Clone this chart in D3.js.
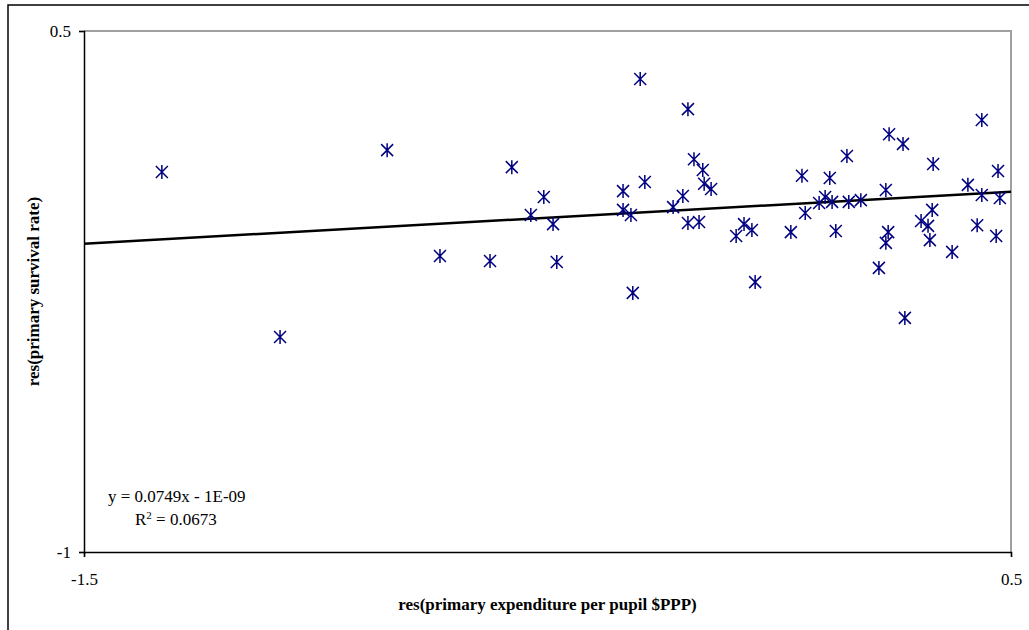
<!DOCTYPE html>
<html>
<head>
<meta charset="utf-8">
<script src="https://cdn.jsdelivr.net/npm/d3@7"></script>
<style>
  body { margin: 0; background: #fff; }
  svg text { font-family: "Liberation Serif", "Times New Roman", serif; }
</style>
</head>
<body>
<div id="chart"></div>
<script>
// residuals
const resExpenditure = [-1.332, -1.077, -0.846, -0.732, -0.624, -0.577, -0.536, -0.508, -0.488, -0.480,
  -0.337, -0.337, -0.320, -0.316, -0.300, -0.290, -0.229, -0.208, -0.197, -0.197,
  -0.184, -0.173, -0.165, -0.162, -0.147, -0.093, -0.076, -0.059, -0.052, 0.025,
  0.049, 0.056, 0.086, 0.099, 0.109, 0.114, 0.122, 0.146, 0.150, 0.176,
  0.215, 0.230, 0.230, 0.237, 0.235, 0.267, 0.271, 0.306, 0.321, 0.325,
  0.330, 0.332, 0.373, 0.407, 0.427, 0.437, 0.437, 0.468, 0.472, 0.476];
const resSurvival = [0.094, -0.381, 0.157, -0.148, -0.162, 0.108, -0.030, 0.022, -0.056, -0.165,
  0.039, -0.015, -0.030, -0.254, 0.362, 0.065, -0.007, 0.025, 0.275, -0.053,
  0.131, -0.050, 0.100, 0.060, 0.045, -0.090, -0.056, -0.073, -0.223, -0.079,
  0.083, -0.024, 0.005, 0.022, 0.077, 0.008, -0.076, 0.140, 0.008, 0.013,
  -0.182, 0.042, -0.110, 0.203, -0.079, 0.175, -0.326, -0.047, -0.061, -0.102,
  -0.015, 0.117, -0.136, 0.057, -0.059, 0.028, 0.244, -0.090, 0.097, 0.019];

const xTicks = [-1.5, 0.5];
const yTicks = [0.5, -1];
const slope = 0.0749, intercept = -1e-9;

const width = 1029, height = 630;
const margin = {left: 84, top: 31, right: 18, bottom: 78};
const fontSize = 17;

const svg = d3.select("#chart").append("svg")
  .attr("width", width)
  .attr("height", height);

// outer chart frame (runs off the right and bottom edge)
svg.append("rect")
  .attr("x", 8).attr("y", 5)
  .attr("width", width).attr("height", height)
  .attr("fill", "none")
  .attr("stroke", "#000")
  .attr("stroke-width", 1.5);

const x = d3.scaleLinear().domain([-1.5, 0.5]).range([margin.left, width - margin.right]);
const y = d3.scaleLinear().domain([-1, 0.5]).range([height - margin.bottom, margin.top]);

// plot area border, top and right in grey
svg.append("path")
  .attr("d", `M${x(-1.5)},${y(0.5)}H${x(0.5)}V${y(-1)}`)
  .attr("fill", "none")
  .attr("stroke", "#a0a0a0")
  .attr("stroke-width", 2);

const fmt = d => String(d);

const yAxis = svg.append("g")
  .attr("transform", `translate(${x(-1.5)},0)`)
  .call(d3.axisLeft(y).tickValues(yTicks).tickFormat(fmt).tickSize(5).tickPadding(8));

const xAxis = svg.append("g")
  .attr("transform", `translate(0,${y(-1)})`)
  .call(d3.axisBottom(x).tickValues(xTicks).tickFormat(fmt).tickSize(5).tickPadding(16));

[yAxis, xAxis].forEach(g => {
  g.select(".domain").attr("stroke", "#000").attr("stroke-width", 1.5);
  g.selectAll(".tick line").attr("stroke", "#000").attr("stroke-width", 1.2);
  g.selectAll(".tick text")
    .attr("fill", "#000")
    .style("font-size", fontSize + "px")
    .style("font-family", "'Liberation Serif', 'Times New Roman', serif");
});
yAxis.selectAll(".tick text").attr("dy", "0.35em");

// trend line
svg.append("line")
  .attr("x1", x(-1.5)).attr("y1", y(slope * -1.5 + intercept))
  .attr("x2", x(0.5)).attr("y2", y(slope * 0.5 + intercept))
  .attr("stroke", "#000")
  .attr("stroke-width", 2.5);

// star markers
const s = 6;
const star = `M${-s},${-s}L${s},${s}M${-s},${s}L${s},${-s}M0,${-s - 1}L0,${s + 1}`;
svg.append("g")
  .selectAll("path")
  .data(resExpenditure.map((d, i) => [d, resSurvival[i]]))
  .join("path")
  .attr("transform", d => `translate(${x(d[0])},${y(d[1])})`)
  .attr("d", star)
  .attr("fill", "none")
  .attr("stroke", "#000080")
  .attr("stroke-width", 1.5);

// equation
svg.append("text")
  .attr("x", 108).attr("y", 502)
  .attr("font-size", fontSize)
  .attr("fill", "#000")
  .text("y = 0.0749x - 1E-09");
const r2 = svg.append("text")
  .attr("x", 135).attr("y", 525)
  .attr("font-size", fontSize)
  .attr("fill", "#000");
r2.append("tspan").text("R");
r2.append("tspan").attr("dy", -6).attr("font-size", 11).text("2");
r2.append("tspan").attr("dy", 6).text(" = 0.0673");

// axis titles
svg.append("text")
  .attr("x", (x(-1.5) + x(0.5)) / 2)
  .attr("y", 610)
  .attr("text-anchor", "middle")
  .attr("font-size", fontSize)
  .attr("font-weight", "bold")
  .text("res(primary expenditure per pupil $PPP)");

svg.append("text")
  .attr("transform", `translate(39,${(y(0.5) + y(-1)) / 2}) rotate(-90)`)
  .attr("text-anchor", "middle")
  .attr("font-size", fontSize)
  .attr("font-weight", "bold")
  .text("res(primary survival rate)");
</script>
</body>
</html>
